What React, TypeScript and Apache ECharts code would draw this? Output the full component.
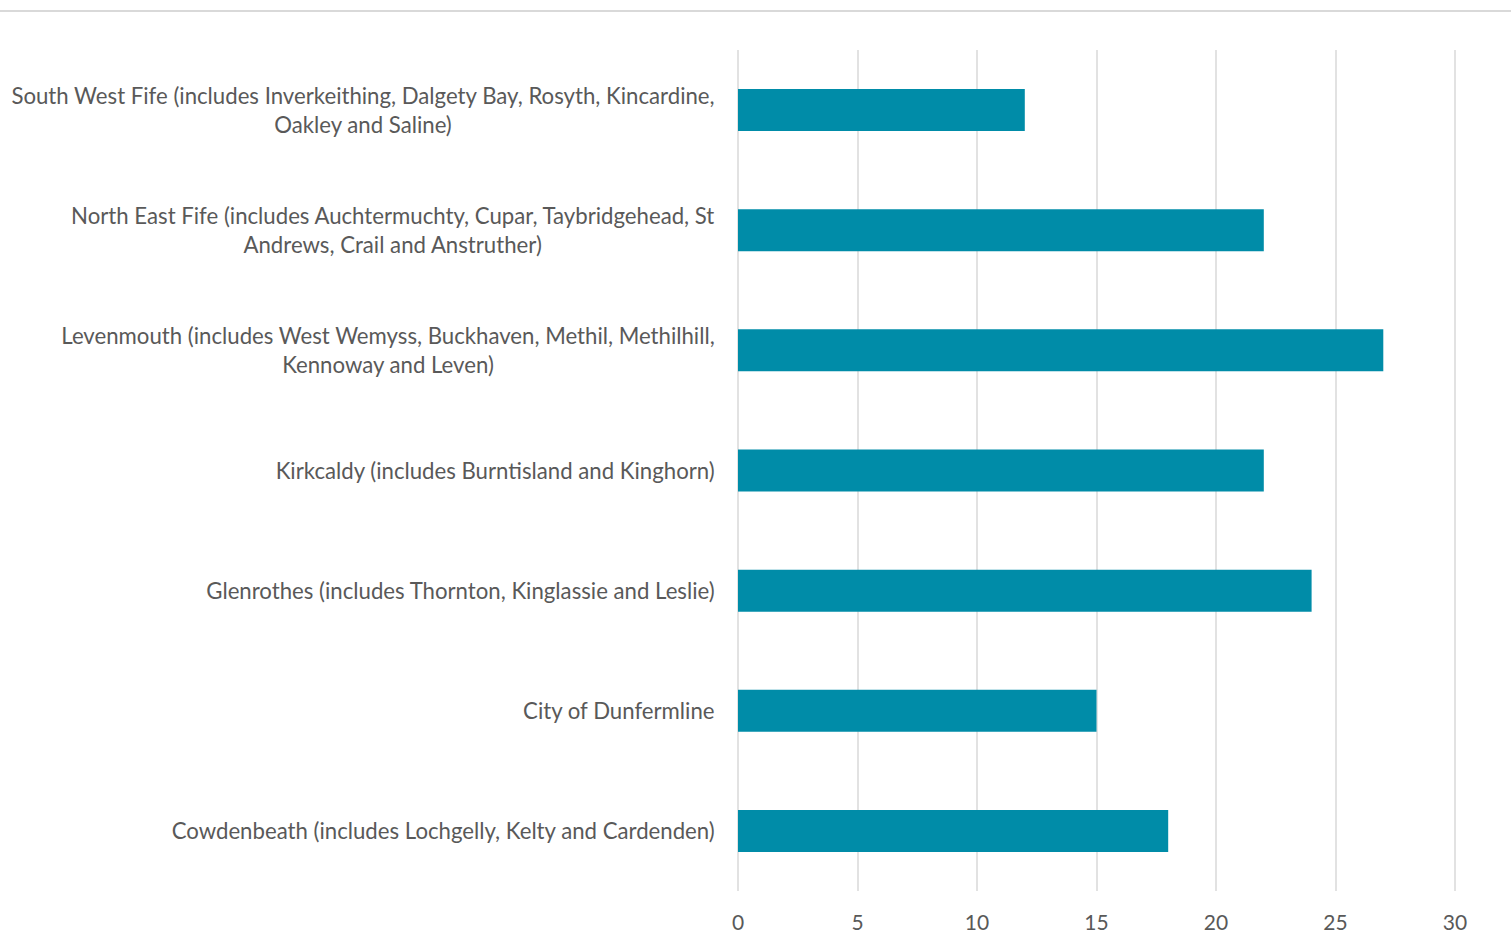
import React, { useEffect, useRef } from "react";
import * as echarts from "echarts";

const categories = [
  "South West Fife (includes Inverkeithing, Dalgety Bay, Rosyth, Kincardine,\nOakley and Saline)",
  "North East Fife (includes Auchtermuchty, Cupar, Taybridgehead, St\nAndrews, Crail and Anstruther)",
  "Levenmouth (includes West Wemyss, Buckhaven, Methil, Methilhill,\nKennoway and Leven)",
  "Kirkcaldy (includes Burntisland and Kinghorn)",
  "Glenrothes (includes Thornton, Kinglassie and Leslie)",
  "City of Dunfermline",
  "Cowdenbeath (includes Lochgelly, Kelty and Cardenden)",
];
const values = [12, 22, 27, 22, 24, 15, 18];
const xMin = 0;
const xMax = 30;
const xInterval = 5;

const FONT = "Lato";
const TEXT_COLOR = "#595959";
const LABEL_SIZE = 22.2;

export default function App() {
  const ref = useRef<HTMLDivElement>(null);
  useEffect(() => {
    document.body.style.margin = "0";
    const chart = echarts.init(ref.current!, null, { renderer: "svg" });
    chart.setOption({
      animation: false,
      backgroundColor: "#ffffff",
      grid: { left: 738, right: 56, top: 50, bottom: 56, containLabel: false },
      graphic: [
        {
          type: "line",
          shape: { x1: 0, y1: 11, x2: 1511, y2: 11 },
          style: { stroke: "#d9d9d9", lineWidth: 2 },
        },
      ],
      xAxis: {
        type: "value",
        min: xMin,
        max: xMax,
        interval: xInterval,
        axisLine: { show: false },
        axisTick: { show: false },
        splitLine: { show: true, lineStyle: { color: "#d9d9d9", width: 1.5 } },
        axisLabel: { color: TEXT_COLOR, fontFamily: FONT, fontSize: 21, margin: 20 },
      },
      yAxis: {
        type: "category",
        inverse: true,
        data: categories,
        axisLine: { show: false },
        axisTick: { show: false },
        axisLabel: {
          color: TEXT_COLOR,
          fontFamily: FONT,
          fontSize: LABEL_SIZE,
          margin: 23,
          lineHeight: 29,
          align: "right",
          formatter: (v: string) =>
            v
              .split("\n")
              .map((l) => `{c|${l}}`)
              .join("\n"),
          rich: {
            c: {
              align: "center",
              color: TEXT_COLOR,
              fontFamily: FONT,
              fontSize: LABEL_SIZE,
              lineHeight: 29,
            },
          },
        },
      },
      series: [
        {
          type: "bar",
          data: values,
          barWidth: 42,
          itemStyle: { color: "#008CA8" },
        },
      ],
    });
    return () => chart.dispose();
  }, []);
  return (
    <div
      ref={ref}
      style={{ position: "fixed", left: 0, top: 0, width: 1511, height: 947 }}
    />
  );
}
